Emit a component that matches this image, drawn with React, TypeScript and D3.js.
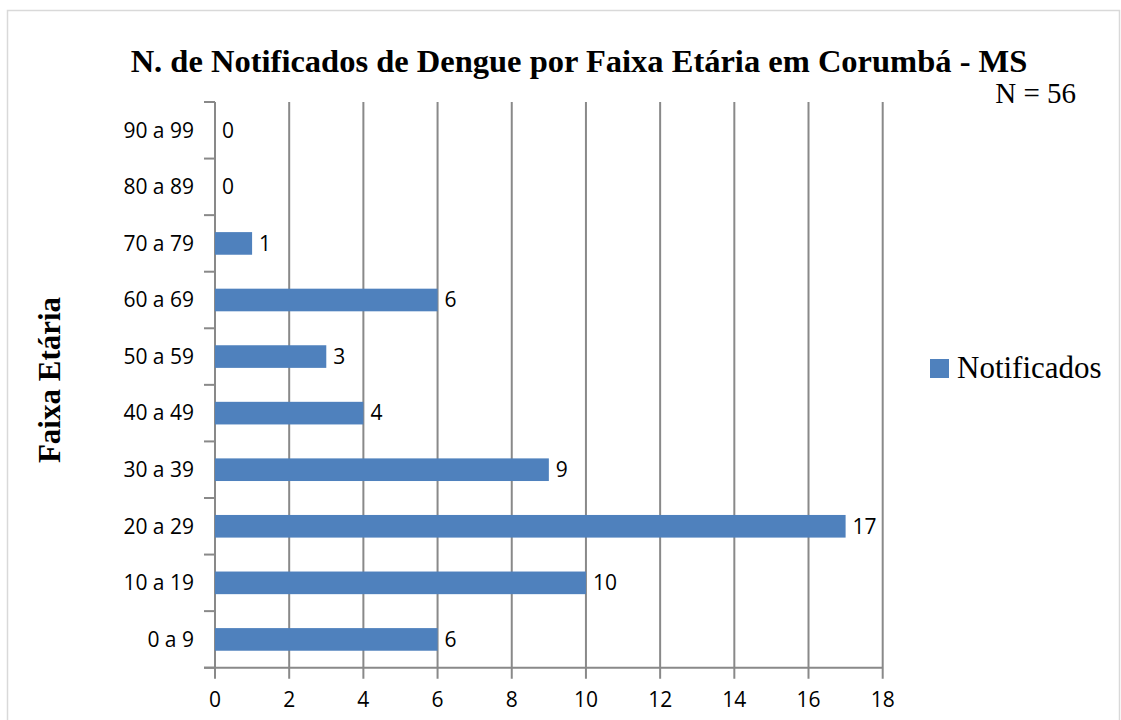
import React from "react";
import * as d3 from "d3";

const categories = ["0 a 9", "10 a 19", "20 a 29", "30 a 39", "40 a 49", "50 a 59", "60 a 69", "70 a 79", "80 a 89", "90 a 99"];
const values = [6, 10, 17, 9, 4, 3, 6, 1, 0, 0];
const xTicks = [0, 2, 4, 6, 8, 10, 12, 14, 16, 18];
const seriesName = "Notificados";
const title = "N. de Notificados de Dengue por Faixa Etária em Corumbá - MS";
const subtitle = "N = 56";
const yTitle = "Faixa Etária";

const W = 1121, H = 720;
const left = 215, right = 882.7, top = 102, bottom = 667.7;
const BAR = "#4F81BD";
const GRID = "#898989";
const sans = "'Open Sans', sans-serif";
const serif = "'Liberation Serif', 'Times New Roman', serif";

export default function App() {
  const x = d3.scaleLinear().domain([0, 18]).range([left, right]);
  const y = d3.scaleBand<string>().domain([...categories].reverse()).range([top, bottom]).paddingInner(0.6).paddingOuter(0.3);
  const band = d3.scaleBand<string>().domain([...categories].reverse()).range([top, bottom]);
  const boundaries = d3.range(categories.length + 1).map(i => top + i * band.step());
  return (
    <svg width={W} height={H} style={{ position: "absolute", left: 0, top: 0, display: "block", background: "#fff" }}>
      <rect x={7.5} y={10.5} width={1112} height={720} fill="#fff" stroke="#d9d9d9" strokeWidth={1.5} />
      <text x={579} y={72} textAnchor="middle" fontFamily={serif} fontWeight="bold" fontSize={32.5}>{title}</text>
      <text x={1076} y={103} textAnchor="end" fontFamily={serif} fontSize={29}>{subtitle}</text>
      {xTicks.map(t => (
        <g key={t}>
          <line x1={x(t)} x2={x(t)} y1={top} y2={bottom + 11} stroke={GRID} strokeWidth={2} />
          <text x={x(t)} y={707} textAnchor="middle" fontFamily={sans} fontSize={21}>{t}</text>
        </g>
      ))}
      <line x1={left - 11} x2={right} y1={bottom} y2={bottom} stroke={GRID} strokeWidth={2} />
      {boundaries.map((b, i) => (
        <line key={i} x1={left - 11} x2={left} y1={b} y2={b} stroke={GRID} strokeWidth={2} />
      ))}
      {categories.map((c, i) => (
        <g key={c}>
          <rect x={x(0)} y={y(c)!} width={x(values[i]) - x(0)} height={y.bandwidth()} fill={BAR} />
          <text x={left - 21} y={band(c)! + band.step() / 2} dy="0.35em" textAnchor="end" fontFamily={sans} fontSize={21}>{c}</text>
          <text x={x(values[i]) + 7} y={band(c)! + band.step() / 2} dy="0.35em" fontFamily={sans} fontSize={21}>{values[i]}</text>
        </g>
      ))}
      <text transform={`translate(60, ${380}) rotate(-90)`} textAnchor="middle" fontFamily={serif} fontWeight="bold" fontSize={31}>{yTitle}</text>
      <rect x={930} y={359} width={19} height={19} fill={BAR} />
      <text x={957} y={378} fontFamily={serif} fontSize={31}>{seriesName}</text>
    </svg>
  );
}
